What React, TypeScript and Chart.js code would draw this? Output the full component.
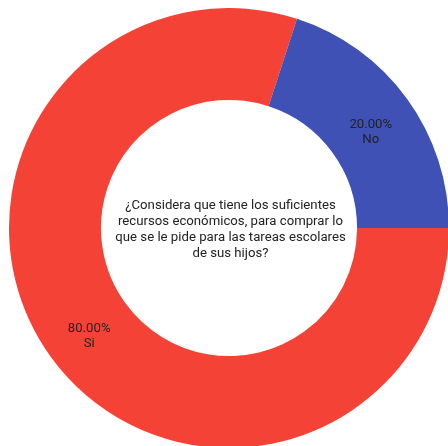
import React, { useEffect, useRef } from "react";
import { Chart, registerables } from "chart.js";

Chart.register(...registerables);

const categories = ["Si", "No"];
const values = [80, 20];
const colors = ["#F44336", "#3F51B5"];
const centerTitle = [
  "¿Considera que tiene los suficientes",
  "recursos económicos, para comprar lo",
  "que se le pide para las tareas escolares",
  "de sus hijos?",
];

const FONT = "Roboto, 'Noto Sans', sans-serif";

const labelPlugin = {
  id: "sliceLabels",
  afterDatasetsDraw(chart: any) {
    const ctx = chart.ctx;
    const meta = chart.getDatasetMeta(0);
    const data = chart.data.datasets[0].data as number[];
    const total = data.reduce((a, b) => a + b, 0);
    ctx.save();
    ctx.fillStyle = "#222222";
    ctx.font = `13.2px ${FONT}`;
    ctx.textAlign = "center";
    ctx.textBaseline = "alphabetic";
    meta.data.forEach((arc: any, i: number) => {
      const p = arc.tooltipPosition();
      const pct = ((data[i] / total) * 100).toFixed(2) + "%";
      ctx.fillText(pct, p.x + 1, p.y + 1.8);
      ctx.fillText(String(chart.data.labels[i]), p.x + 1, p.y + 17.2);
    });
    const first = meta.data[0];
    if (first) {
      const cx = first.x;
      const cy = first.y;
      const lh = 16;
      centerTitle.forEach((line, i) => {
        ctx.fillText(line, cx + 1.5, cy - 19 + i * lh);
      });
    }
    ctx.restore();
  },
};

export default function App() {
  const ref = useRef<HTMLCanvasElement | null>(null);
  useEffect(() => {
    document.body.style.overflow = "hidden";
    if (!ref.current) return;
    const chart = new Chart(ref.current, {
      type: "doughnut",
      data: {
        labels: categories,
        datasets: [
          {
            data: values,
            backgroundColor: colors,
            borderWidth: 0,
            hoverOffset: 0,
          },
        ],
      },
      options: {
        animation: false,
        responsive: false,
        maintainAspectRatio: false,
        rotation: 90,
        cutout: "58.2%",
        plugins: {
          legend: { display: false },
          tooltip: { enabled: false },
        },
        layout: { padding: 0 },
      },
      plugins: [labelPlugin],
    });
    return () => chart.destroy();
  }, []);
  return (
    <div style={{ position: "absolute", left: 9, top: 8, width: 440, height: 440 }}>
      <canvas ref={ref} width={440} height={440} style={{ width: 440, height: 440 }} />
    </div>
  );
}
